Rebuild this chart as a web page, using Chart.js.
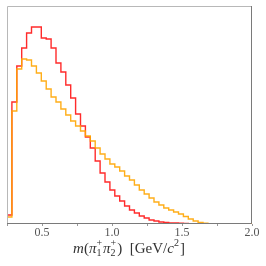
<!DOCTYPE html>
<html lang="en">
<head>
  <meta charset="UTF-8">
  <title>m(pi1+ pi2+) histogram</title>
  <script src="https://cdn.jsdelivr.net/npm/chart.js"></script>
  <style>
    html, body { margin: 0; padding: 0; background: white; }
    #wrap { width: 266px; height: 266px; }
  </style>
</head>
<body>
<div id="wrap"><canvas id="chart" width="266" height="266"></canvas></div>
<script>
  // bin edges in GeV/c^2 (50 bins of 0.035)
  const binEdges = [0.25, 0.285, 0.32, 0.355, 0.39, 0.425, 0.46, 0.495, 0.53, 0.565,
    0.6, 0.635, 0.67, 0.705, 0.74, 0.775, 0.81, 0.845, 0.88, 0.915,
    0.95, 0.985, 1.02, 1.055, 1.09, 1.125, 1.16, 1.195, 1.23, 1.265,
    1.3, 1.335, 1.37, 1.405, 1.44, 1.475, 1.51, 1.545, 1.58, 1.615,
    1.65, 1.685, 1.72, 1.755, 1.79, 1.825, 1.86, 1.895, 1.93, 1.965, 2.0];

  // bin contents (arbitrary units)
  const redCounts = [9, 122, 158, 176, 191, 197, 197, 186, 185, 176,
    161, 152, 139, 126, 110, 98, 87, 76, 63, 51,
    42, 34, 28, 23, 18, 14, 11, 8, 6, 4,
    3, 2, 1.5, 1, 1, 0.7, 0.5, 0.4, 0.3, 0.2,
    0.2, 0.1, 0.1, 0.1, 0, 0, 0, 0, 0, 0];

  const orangeCounts = [7, 113, 155, 165, 164, 158, 151, 143, 135, 127,
    122, 115, 109, 103, 98, 93, 88, 83, 76, 70,
    65, 60, 57, 53, 48, 44, 39, 34, 30, 26,
    22, 19, 16, 14, 12, 10, 7.5, 5, 3, 1.5,
    0.7, 0.3, 0.2, 0.1, 0, 0, 0, 0, 0, 0];

  const xTicks = [0.5, 1.0, 1.5, 2.0];

  function stepPoints(counts) {
    const pts = counts.map((c, i) => ({ x: binEdges[i], y: c }));
    pts.push({ x: binEdges[binEdges.length - 1], y: counts[counts.length - 1] });
    return pts;
  }

  // frame round the plot area, lighter on left/top
  const framePlugin = {
    id: 'frame',
    afterDraw(chart) {
      const { ctx, chartArea: a } = chart;
      ctx.save();
      ctx.lineWidth = 1;
      ctx.strokeStyle = '#b8b8b8';
      ctx.beginPath();
      ctx.moveTo(a.left + 0.5, a.bottom);
      ctx.lineTo(a.left + 0.5, a.top + 0.5);
      ctx.lineTo(a.right, a.top + 0.5);
      ctx.stroke();
      ctx.strokeStyle = '#7a7a7a';
      ctx.beginPath();
      ctx.moveTo(a.right - 0.5, a.top);
      ctx.lineTo(a.right - 0.5, a.bottom - 0.5);
      ctx.lineTo(a.left, a.bottom - 0.5);
      ctx.stroke();
      ctx.restore();
    }
  };

  // x axis title with LaTeX-like stacked sub/superscripts
  const titlePlugin = {
    id: 'xtitle',
    afterDraw(chart) {
      const ctx = chart.ctx;
      const size = 15;
      const small = 10;
      const fam = '"Liberation Serif", serif';
      const parts = [
        { t: 'm', it: true },
        { t: '(' },
        { t: 'π', it: true },
        { sup: '+', sub: '1' },
        { t: 'π', it: true },
        { sup: '+', sub: '2' },
        { t: ')  [GeV/' },
        { t: 'c', it: true },
        { sup: '2' },
        { t: ']' }
      ];
      ctx.save();
      ctx.fillStyle = '#333';
      ctx.textBaseline = 'alphabetic';
      const widths = parts.map(p => {
        if (p.t) {
          ctx.font = (p.it ? 'italic ' : '') + size + 'px ' + fam;
          return ctx.measureText(p.t).width;
        }
        ctx.font = small + 'px ' + fam;
        return Math.max(ctx.measureText(p.sup || '').width, ctx.measureText(p.sub || '').width) + 1;
      });
      const total = widths.reduce((s, w) => s + w, 0);
      let x = 129 - total / 2;
      const base = 253;
      parts.forEach((p, i) => {
        if (p.t) {
          ctx.font = (p.it ? 'italic ' : '') + size + 'px ' + fam;
          ctx.fillText(p.t, x, base);
        } else {
          ctx.font = small + 'px ' + fam;
          if (p.sup) ctx.fillText(p.sup, x, base - 7);
          if (p.sub) ctx.fillText(p.sub, x, base + 3);
        }
        x += widths[i];
      });
      ctx.restore();
    }
  };

  new Chart(document.getElementById('chart'), {
    type: 'line',
    data: {
      datasets: [
        {
          label: 'orange',
          data: stepPoints(orangeCounts),
          borderColor: 'rgba(255,165,0,0.9)',
          borderWidth: 1.4,
          stepped: 'before',
          pointRadius: 0,
          fill: false
        },
        {
          label: 'red',
          data: stepPoints(redCounts),
          borderColor: 'rgba(255,20,20,0.9)',
          borderWidth: 1.4,
          stepped: 'before',
          pointRadius: 0,
          fill: false
        }
      ]
    },
    options: {
      responsive: false,
      animation: false,
      events: [],
      layout: { padding: { left: 7, right: 14, top: 6, bottom: 0 } },
      plugins: {
        legend: { display: false },
        tooltip: { enabled: false }
      },
      scales: {
        x: {
          type: 'linear',
          min: 0.25,
          max: 2.0,
          afterBuildTicks(scale) {
            scale.ticks = [0.25, 0.5, 0.75, 1.0, 1.25, 1.5, 1.75, 2.0].map(v => ({ value: v }));
          },
          afterFit(scale) { scale.height = 42; },
          border: { display: false },
          grid: {
            drawOnChartArea: false,
            drawTicks: true,
            tickLength: 2,
            color: '#999'
          },
          ticks: {
            maxRotation: 0,
            autoSkip: false,
            padding: 0,
            color: '#555',
            font: { family: '"Liberation Serif", serif', size: 12 },
            callback: v => xTicks.some(t => Math.abs(t - v) < 1e-6) ? v.toFixed(1) : ''
          }
        },
        y: {
          display: false,
          min: 0,
          max: 218
        }
      }
    },
    plugins: [framePlugin, titlePlugin]
  });
</script>
</body>
</html>
